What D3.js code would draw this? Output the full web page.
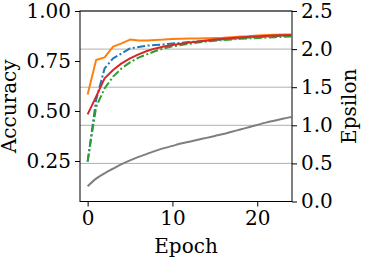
<!DOCTYPE html>
<html><head><meta charset="utf-8">
<script src="https://cdn.jsdelivr.net/npm/d3@7"></script>
<style>body{margin:0;background:#fff}svg{display:block}text{font-family:"DejaVu Serif",serif;fill:#000}</style>
</head><body>
<svg id="c" width="371" height="266"></svg>
<script>
const epochs = d3.range(0, 25);
const accOrange = [0.583,0.755,0.768,0.822,0.838,0.857,0.853,0.853,0.855,0.857,0.860,0.861,0.862,0.863,0.864,0.865,0.866,0.869,0.872,0.874,0.878,0.880,0.881,0.882,0.883];
const accBlue   = [0.247,0.555,0.713,0.763,0.788,0.813,0.820,0.827,0.830,0.833,0.837,0.841,0.845,0.848,0.851,0.855,0.858,0.861,0.864,0.867,0.870,0.872,0.874,0.876,0.877];
const accGreen  = [0.247,0.520,0.613,0.672,0.713,0.743,0.767,0.783,0.800,0.813,0.823,0.830,0.836,0.842,0.847,0.851,0.855,0.858,0.861,0.863,0.865,0.867,0.869,0.871,0.872];
const accRed    = [0.483,0.572,0.663,0.705,0.738,0.763,0.783,0.800,0.813,0.822,0.830,0.836,0.842,0.847,0.852,0.857,0.861,0.865,0.868,0.871,0.873,0.875,0.877,0.879,0.880];
const epsilon   = [0.20,0.30,0.37,0.43,0.49,0.54,0.585,0.625,0.665,0.70,0.73,0.76,0.785,0.81,0.835,0.86,0.885,0.915,0.945,0.975,1.005,1.035,1.06,1.085,1.11];
const xTicks = [0, 10, 20];
const accTicks = [0.25, 0.50, 0.75, 1.00];
const epsTicks = [0.0, 0.5, 1.0, 1.5, 2.0, 2.5];

const L = 80, R = 292, T = 11, B = 201.5;
const svg = d3.select("#c");
const x = d3.scaleLinear().domain([-0.9, 24.1]).range([L, R]);
const yL = d3.scaleLinear().domain([0.0475, 1.0]).range([B, T]);
const yR = d3.scaleLinear().domain([0, 2.5]).range([B, T]);

const defs = svg.append("defs");
defs.append("clipPath").attr("id","clip").append("rect").attr("x",L).attr("y",T).attr("width",R-L).attr("height",B-T);

// grid (right axis)
svg.append("g").selectAll("line").data(epsTicks).join("line")
  .attr("x1",L).attr("x2",R).attr("y1",d=>yR(d)).attr("y2",d=>yR(d))
  .attr("stroke","#b0b0b0").attr("stroke-width",1);

const plot = svg.append("g").attr("clip-path","url(#clip)");
const lineL = arr => d3.line().x((d,i)=>x(epochs[i])).y(d=>yL(d))(arr);
const lineR = arr => d3.line().curve(d3.curveMonotoneX).x((d,i)=>x(epochs[i])).y(d=>yR(d))(arr);

const series = [
  {v:accBlue, c:"#1f77b4", dash:"8,2.5,2,2.5"},
  {v:accOrange, c:"#ff7f0e", dash:null},
  {v:accGreen, c:"#2ca02c", dash:"8,2.5,2,2.5"},
  {v:accRed, c:"#d62728", dash:null}
];
plot.append("path").attr("d",lineR(epsilon)).attr("fill","none").attr("stroke","#7f7f7f").attr("stroke-width",2);
series.forEach(s=>{
  plot.append("path").attr("d",lineL(s.v)).attr("fill","none").attr("stroke",s.c)
    .attr("stroke-width",2).attr("stroke-dasharray",s.dash).attr("stroke-linejoin","round");
});

// frame
svg.append("rect").attr("x",L).attr("y",T).attr("width",R-L).attr("height",B-T)
  .attr("fill","none").attr("stroke","#000").attr("stroke-width",1);

const fs = 20;
const gx = svg.append("g").attr("transform",`translate(0,${B})`)
  .call(d3.axisBottom(x).tickValues(xTicks).tickSize(5).tickPadding(4).tickFormat(d3.format("d")));
const gl = svg.append("g").attr("transform",`translate(${L},0)`)
  .call(d3.axisLeft(yL).tickValues(accTicks).tickSize(5).tickPadding(4).tickFormat(d3.format(".2f")));
const gr = svg.append("g").attr("transform",`translate(${R},0)`)
  .call(d3.axisRight(yR).tickValues(epsTicks).tickSize(5).tickPadding(4).tickFormat(d3.format(".1f")));
[gx,gl,gr].forEach(g=>{
  g.select(".domain").remove();
  g.selectAll(".tick line").attr("stroke","#000").attr("stroke-width",1);
  g.selectAll(".tick text").attr("font-size",fs).attr("font-family","DejaVu Serif").attr("fill","#000");
});

svg.append("text").attr("x",(L+R)/2).attr("y",253).attr("text-anchor","middle").attr("font-size",fs).text("Epoch");
svg.append("text").attr("transform",`translate(16,${(T+B)/2}) rotate(-90)`).attr("text-anchor","middle").attr("font-size",fs).text("Accuracy");
svg.append("text").attr("transform",`translate(356,${(T+B)/2}) rotate(-90)`).attr("text-anchor","middle").attr("font-size",fs).text("Epsilon");
</script>
</body></html>
